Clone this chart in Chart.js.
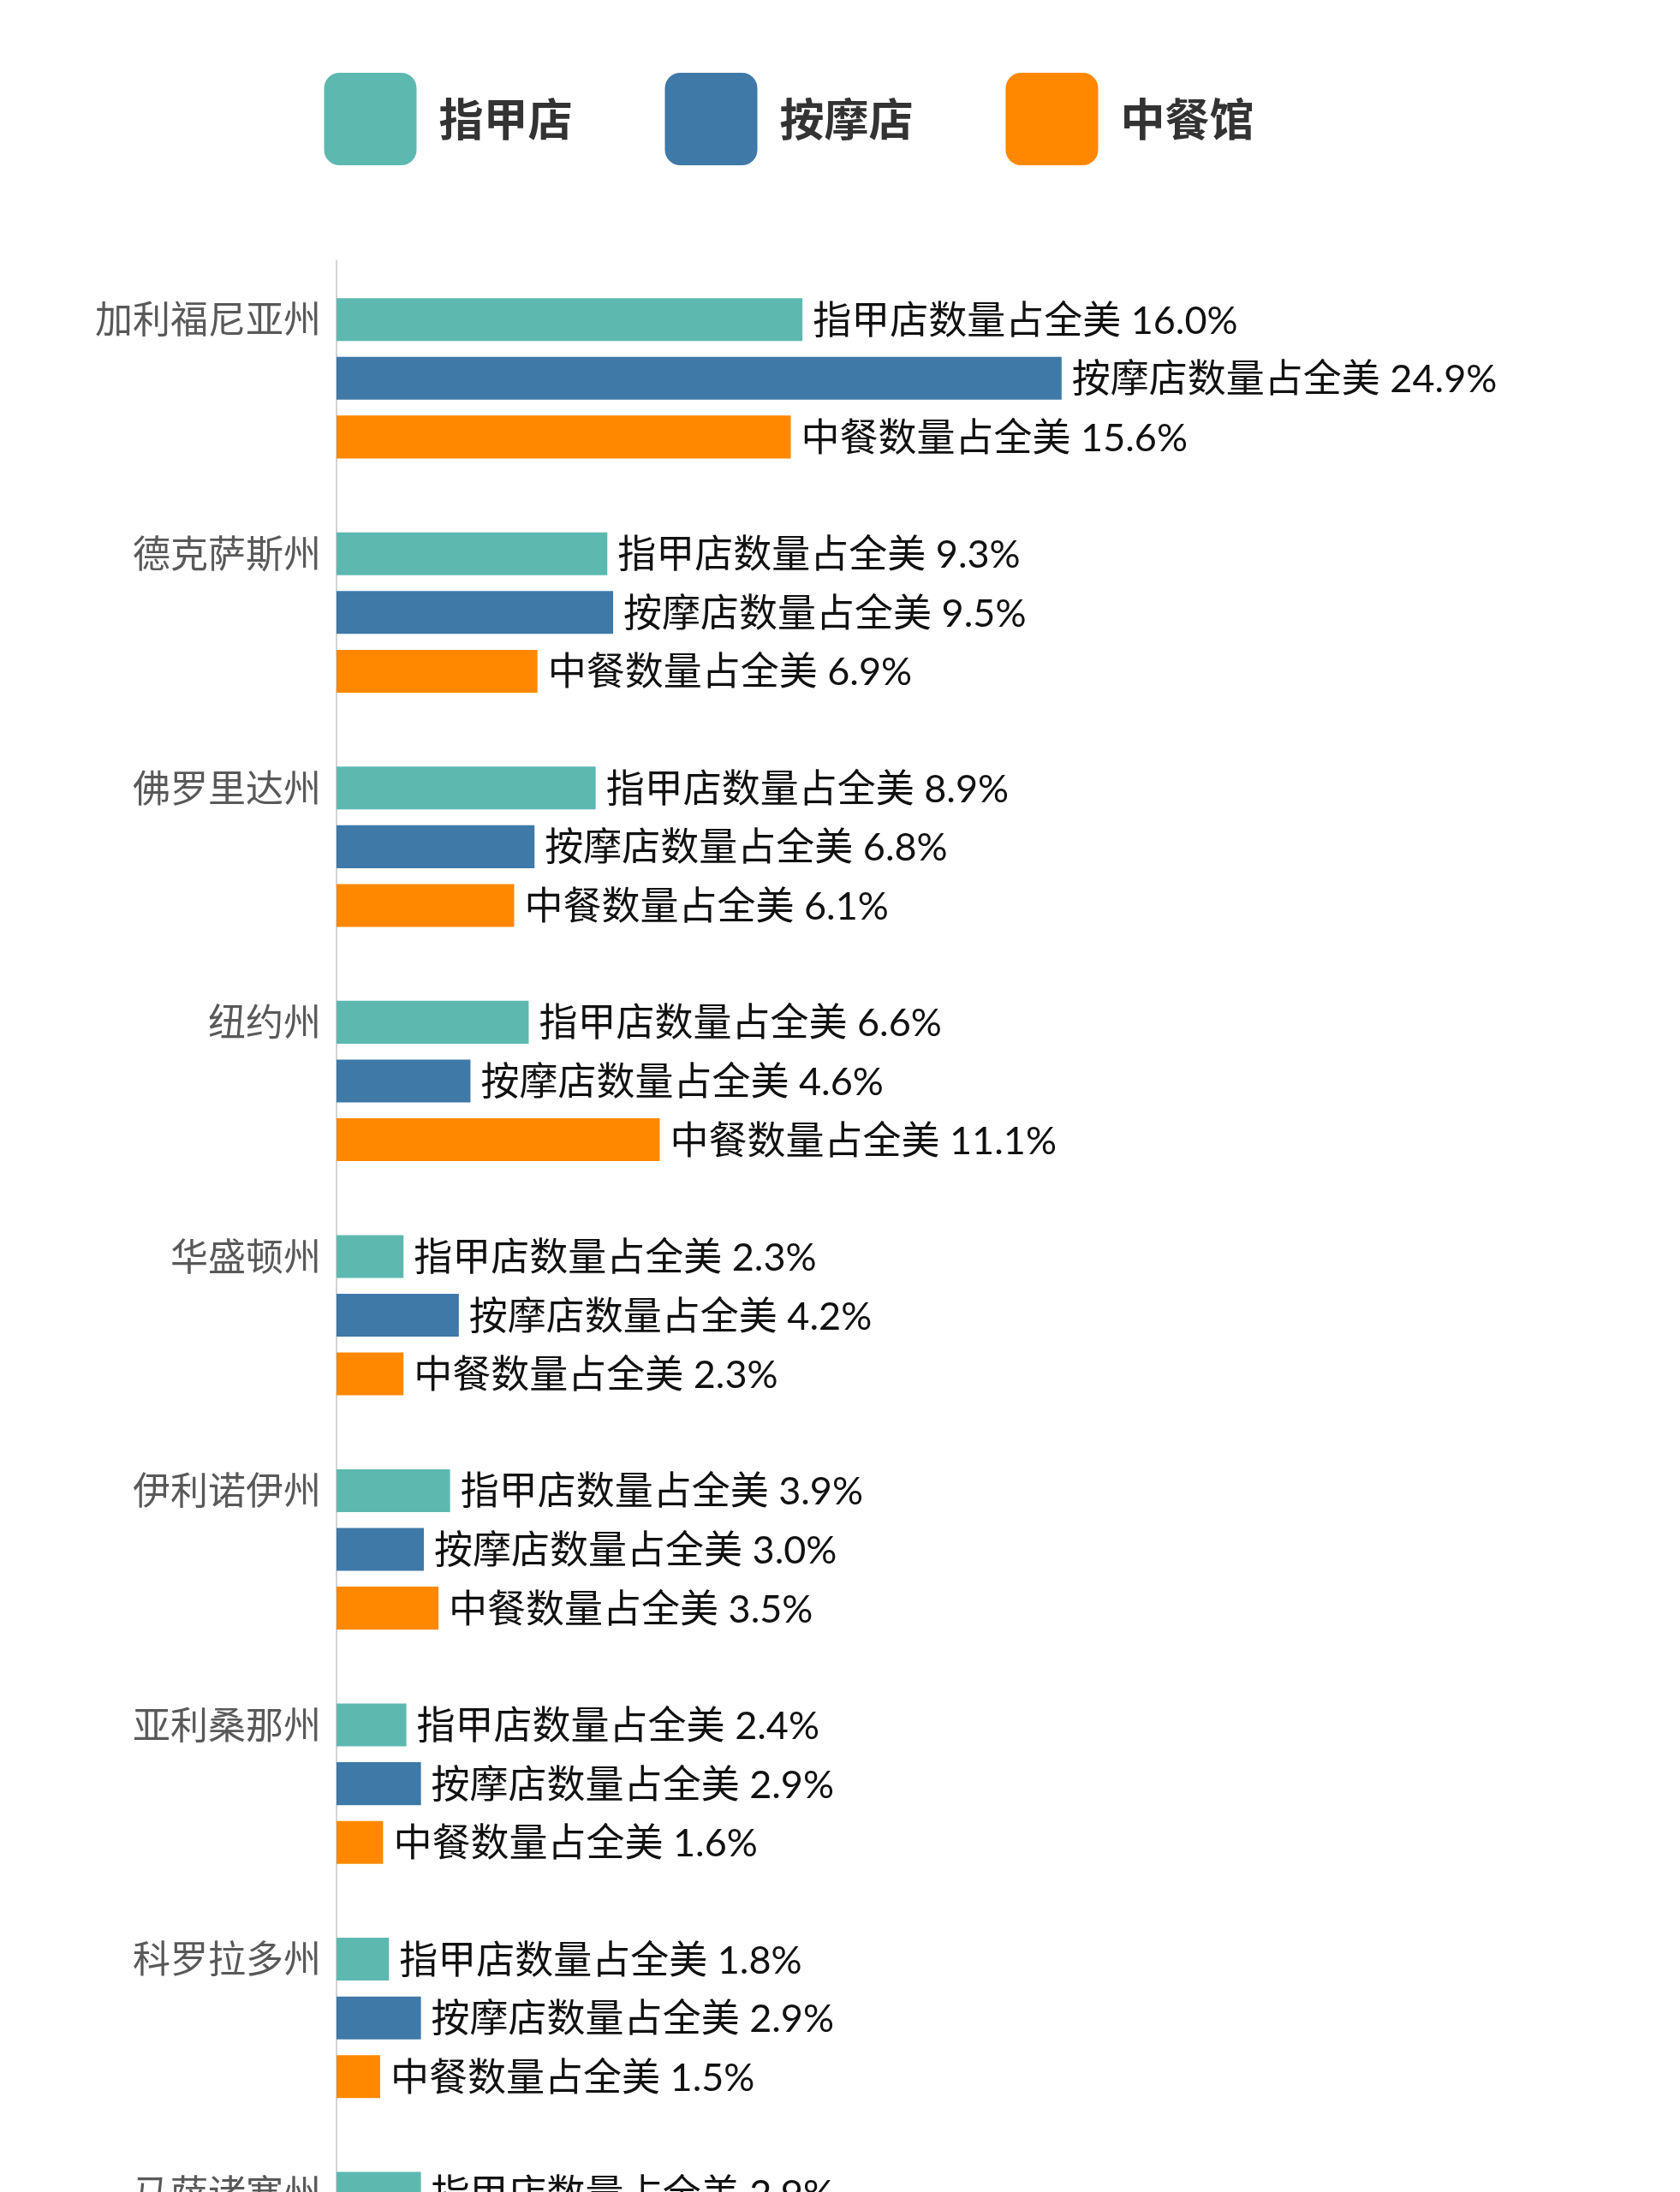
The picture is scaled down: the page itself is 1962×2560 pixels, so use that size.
<!DOCTYPE html>
<html lang="zh">
<head>
    <meta charset="UTF-8">
    <title>各州指甲店、按摩店、中餐馆数量占全美比例</title>
    <script src="https://cdn.jsdelivr.net/npm/chart.js@4"></script>
    <style>
        html, body { margin: 0; padding: 0; background: #fff; width: 1962px; height: 2560px; overflow: hidden; }
        .frame { position: relative; width: 1962px; height: 2560px; overflow: hidden; }
        /* the chart runs on past the bottom of the page, like the cut-off original */
        .chart-box { position: absolute; left: 0; top: -23px; width: 1962px; height: 2790px; }
    </style>
</head>
<body>
    <div class="frame">
        <div class="chart-box"><canvas id="shareChart"></canvas></div>
    </div>

    <script>
        // data (share of US total, %)
        const states = ["加利福尼亚州", "德克萨斯州", "佛罗里达州", "纽约州", "华盛顿州", "伊利诺伊州", "亚利桑那州", "科罗拉多州", "马萨诸塞州"];
        const nailShare = [16.0, 9.3, 8.9, 6.6, 2.3, 3.9, 2.4, 1.8, 2.9];
        const massageShare = [24.9, 9.5, 6.8, 4.6, 4.2, 3.0, 2.9, 2.9, null];
        const chineseShare = [15.6, 6.9, 6.1, 11.1, 2.3, 3.5, 1.6, 1.5, null];

        const seriesNames = ["指甲店", "按摩店", "中餐馆"];
        const labelPrefixes = ["指甲店数量占全美", "按摩店数量占全美", "中餐数量占全美"];
        const seriesColors = ["#5DB9B0", "#3E79A8", "#FF8800"];

        const CJK = '"Noto Sans CJK SC", sans-serif';

        // text after each bar
        const barLabels = {
            id: 'barLabels',
            afterDatasetsDraw(chart) {
                const ctx = chart.ctx;
                ctx.save();
                ctx.font = '45px Lato, ' + CJK;
                ctx.fillStyle = '#111';
                ctx.textAlign = 'left';
                ctx.textBaseline = 'middle';
                chart.data.datasets.forEach((ds, i) => {
                    chart.getDatasetMeta(i).data.forEach((bar, j) => {
                        const v = ds.data[j];
                        if (v == null) return;
                        ctx.fillText(labelPrefixes[i] + ' ' + v.toFixed(1) + '%', bar.x + 12, bar.y + 2);
                    });
                });
                ctx.restore();
            }
        };

        // legend keeps its wide item spacing but takes less height
        const legendHeight = {
            id: 'legendHeight',
            beforeUpdate(chart) {
                const legend = chart.legend;
                if (!legend || legend._patched) return;
                const fit = legend.fit;
                legend.fit = function () {
                    fit.call(this);
                    this.height = 328;
                };
                legend._patched = true;
            }
        };

        const ctx = document.getElementById('shareChart').getContext('2d');
        new Chart(ctx, {
            type: 'bar',
            data: {
                labels: states,
                datasets: [nailShare, massageShare, chineseShare].map((values, i) => ({
                    label: seriesNames[i],
                    data: values,
                    backgroundColor: seriesColors[i],
                    borderWidth: 0,
                    categoryPercentage: 0.752,
                    barPercentage: 0.73
                }))
            },
            options: {
                indexAxis: 'y',
                responsive: true,
                maintainAspectRatio: false,
                devicePixelRatio: 1,
                animation: false,
                layout: { padding: { top: 0, left: 6, right: 125, bottom: 0 } },
                plugins: {
                    tooltip: { enabled: false },
                    legend: {
                        position: 'top',
                        align: 'center',
                        labels: {
                            boxWidth: 108,
                            boxHeight: 108,
                            padding: 108,
                            useBorderRadius: true,
                            borderRadius: 18,
                            color: '#333',
                            font: { family: CJK, size: 52, weight: 'bold' }
                        }
                    }
                },
                scales: {
                    x: {
                        display: false,
                        min: 0,
                        max: 42.46
                    },
                    y: {
                        afterFit: (scale) => {
                            scale.width = 387;
                            // no extra room under the last label: the chart is cut off there anyway
                            scale.paddingTop = 0;
                            scale.paddingBottom = 0;
                        },
                        grid: { display: false, drawTicks: false },
                        border: { display: true, color: '#d4d4d4', width: 2 },
                        ticks: {
                            padding: 18,
                            labelOffset: -69,
                            color: '#595959',
                            font: { family: CJK, size: 44 }
                        }
                    }
                }
            },
            plugins: [barLabels, legendHeight]
        });
    </script>
</body>
</html>
